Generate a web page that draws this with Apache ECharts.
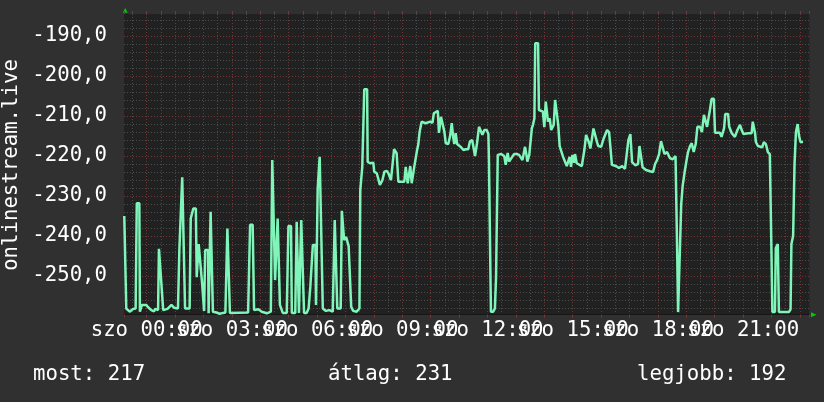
<!DOCTYPE html>
<html><head><meta charset="utf-8">
<script src="https://cdn.jsdelivr.net/npm/echarts@6/dist/echarts.min.js"></script>
<style>html,body{margin:0;padding:0;background:#303030;}#c{width:824px;height:402px;}</style>
</head><body><div id="c"></div>
<script>
// ---- data: [hour of day, value] ----
const segNight = [[-0.79,-235],[-0.75,-235],[-0.72,-258.1],[-0.60,-258.9],[-0.48,-258.2],[-0.39,-258.1],[-0.35,-231.8],[-0.26,-231.8],[-0.24,-258.9],[-0.17,-257.2],[-0.02,-257.2],[0.05,-257.8],[0.16,-258.5],[0.26,-258.8],[0.30,-258.2],[0.40,-258.5],[0.43,-243.2],[0.47,-243.2],[0.49,-249.2],[0.55,-249.3],[0.58,-258.5],[0.73,-258.2],[0.87,-257.2],[0.96,-257.9],[1.10,-258.1],[1.15,-243.3],[1.22,-243.0],[1.25,-225.3],[1.32,-225.3],[1.35,-258.1],[1.51,-258.1],[1.55,-235.6],[1.60,-235.6],[1.64,-233.1],[1.73,-233.1],[1.76,-250.3],[1.81,-250.3],[1.83,-242],[1.90,-242],[1.95,-251.8],[1.99,-251.8],[2.02,-258.7],[2.06,-243.5],[2.16,-243.5],[2.18,-259.3],[2.23,-259.3],[2.25,-233.9],[2.31,-233.9],[2.33,-258.9],[2.45,-259.1],[2.57,-259.4],[2.69,-259.2],[2.77,-259.1],[2.84,-238.1],[2.90,-238.1],[2.93,-259.2],[3.57,-259.1]];
const segEarly = [[3.64,-237.2],[3.73,-237.2],[3.78,-258.5],[3.93,-258.3],[4.05,-258.9],[4.23,-259.3],[4.37,-258.9],[4.42,-221],[4.49,-221],[4.52,-251],[4.58,-251],[4.61,-235.6],[4.67,-235.6],[4.69,-257.2],[4.79,-259.2],[4.93,-259.2],[4.99,-237.5],[5.08,-237.5],[5.11,-259.2],[5.23,-259.2],[5.28,-236.4],[5.34,-236.4],[5.36,-259.2],[5.42,-259.2],[5.44,-236],[5.51,-236],[5.54,-259.2],[5.63,-259.2],[5.70,-258.1],[5.76,-252.7],[5.81,-252.7],[5.85,-242.2],[5.94,-242.2],[5.96,-257.2],[6.00,-257.2],[6.02,-228.1],[6.07,-227.7],[6.09,-220.2],[6.16,-220.2],[6.20,-258.1],[6.31,-258.7],[6.43,-258.5],[6.55,-258.9],[6.62,-236],[6.69,-236],[6.71,-258.1],[6.83,-258.1],[6.87,-233.7],[6.92,-233.7],[6.95,-241],[7.02,-240.2],[7.08,-240.2],[7.11,-242.5],[7.18,-242.5],[7.20,-257.7],[7.27,-258.7],[7.39,-258.9],[7.49,-258.1]];
const segMorning = [[7.52,-228.5],[7.56,-228.5],[7.59,-222.7],[7.63,-222.7],[7.66,-203.3],[7.76,-203.3],[7.78,-221.4],[7.86,-221.8],[7.98,-221.7],[8.01,-223.9],[8.10,-224.3],[8.15,-224.5],[8.21,-227.2],[8.30,-226],[8.37,-223.9],[8.45,-223.7],[8.51,-224.3],[8.60,-226],[8.65,-225.6],[8.71,-218.3],[8.77,-218.5],[8.80,-219.3],[8.84,-219.3],[8.86,-226.4],[9.07,-226.4],[9.12,-222.7],[9.17,-222.7],[9.19,-226.8],[9.24,-226.8],[9.28,-222.5],[9.33,-226.8],[9.38,-226.8],[9.42,-222.7],[9.47,-222.7],[9.52,-218.5],[9.56,-217.2],[9.61,-213.9],[9.68,-211.4],[9.75,-211.2],[9.82,-211.8],[9.89,-211.4],[9.98,-211.4],[10.06,-211.7],[10.11,-209.3],[10.18,-208.9],[10.25,-208.7],[10.29,-214.2],[10.34,-214.2],[10.36,-210.2],[10.43,-210.2],[10.48,-213.9],[10.53,-216.8],[10.62,-217],[10.69,-214.7],[10.74,-211.8],[10.79,-215.2],[10.83,-217],[10.88,-214.3],[10.93,-217],[11.00,-217],[11.07,-217.8],[11.15,-218.5],[11.23,-218.3],[11.32,-218.3],[11.38,-216.4],[11.46,-216],[11.52,-216.2],[11.56,-220],[11.60,-220],[11.63,-216.8],[11.70,-212.7],[11.77,-212.7],[11.82,-214.7],[11.89,-213.5],[11.97,-213.5],[12.03,-214.5]];
const segMidday = [[12.05,-221],[12.12,-258.9],[12.20,-258.9],[12.26,-258.1],[12.30,-250.2],[12.33,-250.2],[12.36,-219.7],[12.48,-219.5],[12.55,-219.2],[12.59,-220],[12.64,-222.2],[12.68,-222.2],[12.71,-219.2],[12.76,-221.4],[12.83,-221.4],[12.87,-220.2],[12.94,-219.5],[13.03,-219.5],[13.11,-219.7],[13.18,-220],[13.23,-221],[13.27,-220.6],[13.32,-217.7],[13.37,-219.7],[13.40,-221.4],[13.45,-221.4],[13.47,-219.7],[13.52,-219.3],[13.56,-213.1],[13.60,-212.2],[13.65,-210.6],[13.68,-191.8],[13.78,-191.8],[13.81,-208.5],[13.88,-208.1],[13.95,-208.9],[14.00,-212.8],[14.05,-206.4],[14.10,-206.4],[14.13,-211.4],[14.19,-210.6],[14.24,-213.5],[14.28,-213.9],[14.33,-212.2],[14.38,-206],[14.45,-206],[14.49,-212.2],[14.54,-217.5],[14.61,-217.8],[14.66,-220.2],[14.73,-220.3],[14.79,-222.5],[14.85,-222.7],[14.89,-220.2],[14.94,-222.7],[14.99,-219.7],[15.04,-221.7],[15.08,-219.5],[15.14,-221.8],[15.20,-222.2],[15.32,-222.5],[15.37,-222.8],[15.41,-218.5],[15.47,-214.7],[15.53,-214.7],[15.58,-216.8],[15.62,-218.1],[15.67,-216],[15.73,-213.1],[15.79,-213.1],[15.85,-216.4],[15.90,-217.5],[16.00,-217.7],[16.08,-215.8],[16.14,-215.8]];
const segEvening = [[16.21,-213.5],[16.28,-214],[16.33,-218],[16.38,-222.2],[16.52,-222.5],[16.63,-223],[16.74,-222.5],[16.84,-223.2],[16.91,-222.8],[16.96,-216],[17.03,-214.5],[17.09,-221.5],[17.20,-222.3],[17.30,-222],[17.35,-217.5],[17.41,-217.8],[17.46,-222.8],[17.58,-223.5],[17.72,-223.8],[17.83,-224],[17.90,-222],[17.97,-221],[18.04,-219.5],[18.11,-216.3],[18.18,-216.5],[18.23,-219.5],[18.32,-219],[18.42,-220.5],[18.52,-220.8],[18.62,-220],[18.68,-245],[18.71,-259],[18.78,-259],[18.82,-232],[18.87,-227.5],[18.94,-224],[19.01,-221],[19.06,-219],[19.13,-217.5],[19.19,-216.8],[19.26,-219],[19.33,-217],[19.39,-212.7],[19.48,-212.7],[19.55,-214],[19.62,-209.7],[19.69,-209.7],[19.73,-212.7],[19.78,-212.7],[19.83,-208.5],[19.89,-205.7],[19.97,-205.7],[20.01,-214.2],[20.18,-214.2],[20.24,-215.2],[20.33,-213],[20.37,-209.5],[20.47,-209.5],[20.51,-212.7],[20.60,-214.3],[20.71,-215.2],[20.80,-213.5],[20.89,-212.2],[20.95,-213.5],[21.01,-214.5],[21.18,-214.3],[21.30,-214.3],[21.34,-211.4],[21.38,-211.4],[21.42,-214.3],[21.45,-216.5],[21.52,-217.5],[21.67,-217.8],[21.73,-216.5],[21.80,-217],[21.87,-219],[21.94,-219.5],[22.00,-245],[22.03,-259],[22.12,-259],[22.15,-243],[22.22,-242],[22.26,-259],[22.61,-259],[22.67,-258.3],[22.70,-242],[22.76,-240],[22.81,-222],[22.86,-214],[22.92,-212],[22.97,-215],[23.02,-216.5],[23.11,-216.5]];

// ---- ticks & texts ----
const xTickHours = [0, 3, 6, 9, 12, 15, 18, 21];
const xTickLabels = ['szo 00:00','szo 03:00','szo 06:00','szo 09:00','szo 12:00','szo 15:00','szo 18:00','szo 21:00'];
const yTickValues = [-250, -240, -230, -220, -210, -200, -190];
const yTickLabels = ['-250,0','-240,0','-230,0','-220,0','-210,0','-200,0','-190,0'];
const yTitle = 'onlinestream.live';
const footerLabels = ['most: 217', 'átlag: 231', 'legjobb: 192'];

const xMin = -0.8, xMax = 23.33, yMin = -259.6, yMax = -184.5;
const FONT = 'DejaVu Sans Mono';
const FS = 20.7;
const RED = '#783434', GRAY = '#4c4c4c';

const data = [].concat(segNight, segEarly, segMorning, segMidday, segEvening);

function lookup(vals, labels, v) {
  const i = vals.findIndex(t => Math.abs(t - v) < 1e-6);
  return i >= 0 ? labels[i] : '';
}

const chart = echarts.init(document.getElementById('c'));
chart.setOption({
  backgroundColor: '#303030',
  animation: false,
  grid: { left: 124, right: 14.7, top: 14, bottom: 87.5, show: true, backgroundColor: '#212121', borderWidth: 0 },
  xAxis: [
    { type: 'value', min: xMin, max: xMax, splitNumber: 24, z: 3,
      axisLine: { show: true, lineStyle: { color: '#151515', width: 1 } },
      axisTick: { show: true, length: 3, lineStyle: { color: '#7a3333' } },
      axisLabel: { show: true, color: '#ffffff', fontFamily: FONT, fontSize: FS, margin: 6, hideOverlap: false,
        formatter: v => lookup(xTickHours, xTickLabels, v) },
      splitLine: { show: true, showMinLine: false, showMaxLine: false, lineStyle: { color: RED, type: [1, 2], width: 1 } } },
    { type: 'value', min: xMin, max: xMax, splitNumber: 48, z: 2,
      axisLine: { show: false },
      axisTick: { show: true, length: 3, lineStyle: { color: '#4a4a4a' } },
      axisLabel: { show: false },
      splitLine: { show: true, showMinLine: false, showMaxLine: false, lineStyle: { color: GRAY, type: [1, 2], width: 1 } } }
  ],
  yAxis: [
    { type: 'value', min: yMin, max: yMax, splitNumber: 7, z: 3,
      axisLine: { show: false }, axisTick: { show: false },
      axisLabel: { show: true, color: '#ffffff', fontFamily: FONT, fontSize: FS, margin: 17,
        formatter: v => lookup(yTickValues, yTickLabels, v) },
      splitLine: { show: true, showMinLine: false, showMaxLine: false, lineStyle: { color: RED, type: [1, 2], width: 1 } } },
    { type: 'value', min: yMin, max: yMax, splitNumber: 37, z: 2,
      axisLine: { show: false }, axisTick: { show: false }, axisLabel: { show: false },
      splitLine: { show: true, showMinLine: false, showMaxLine: false, lineStyle: { color: GRAY, type: [1, 2], width: 1 } } }
  ],
  series: [{
    type: 'line', data: data, xAxisIndex: 0, yAxisIndex: 0, showSymbol: false, z: 5,
    lineStyle: { color: '#7ff5b9', width: 2.5 }
  }],
  graphic: [
    { type: 'text', x: 11.5, y: 165, rotation: Math.PI / 2,
      style: { text: yTitle, fill: '#ffffff', fontFamily: FONT, fontSize: FS, align: 'center', verticalAlign: 'middle' } },
    { type: 'text', x: 33, y: 374.5, style: { text: footerLabels[0], fill: '#ffffff', fontFamily: FONT, fontSize: FS, align: 'left', verticalAlign: 'middle' } },
    { type: 'text', x: 328, y: 374.5, style: { text: footerLabels[1], fill: '#ffffff', fontFamily: FONT, fontSize: FS, align: 'left', verticalAlign: 'middle' } },
    { type: 'text', x: 637, y: 374.5, style: { text: footerLabels[2], fill: '#ffffff', fontFamily: FONT, fontSize: FS, align: 'left', verticalAlign: 'middle' } },
    { type: 'polygon', shape: { points: [[122.7, 12.7], [127.7, 12.7], [125.2, 8]] }, style: { fill: '#00cc00' } },
    { type: 'polygon', shape: { points: [[811, 312.3], [811, 317.3], [816.5, 314.8]] }, style: { fill: '#00cc00' } }
  ]
});
</script></body></html>
